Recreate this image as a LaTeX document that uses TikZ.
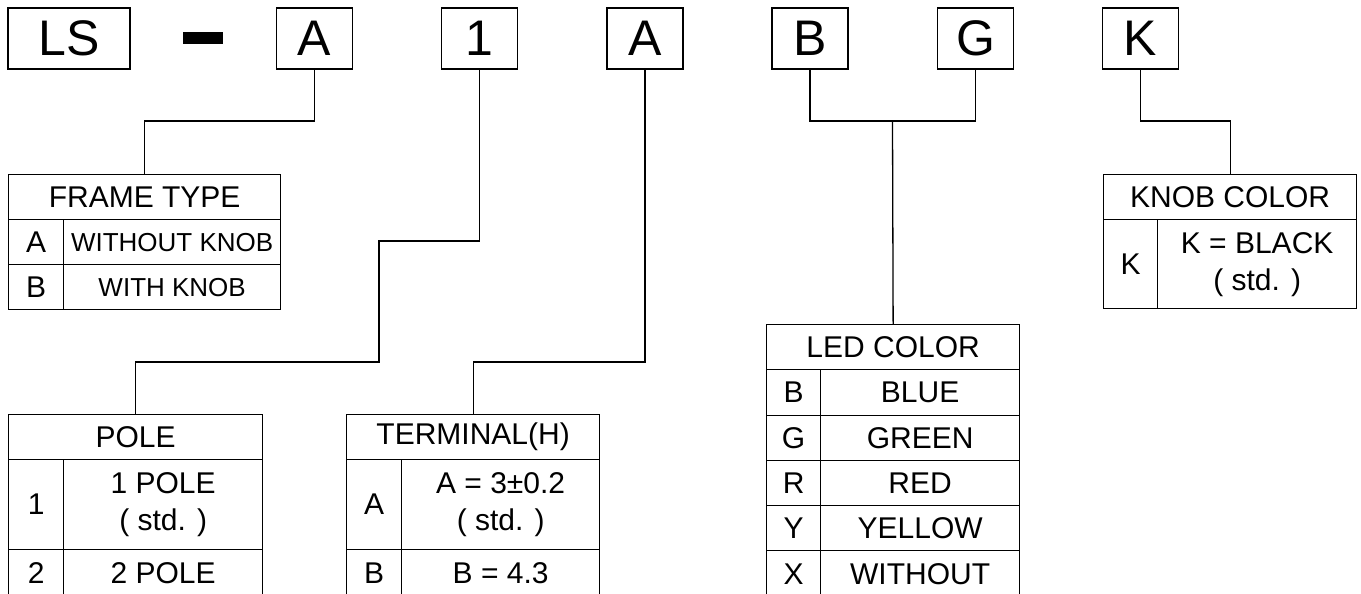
\documentclass[tikz,border=0pt]{standalone}
\usepackage{fontspec}
\setmainfont{Liberation Sans}
\usepackage{tikz}

\newcommand{\codefont}{\fontsize{50}{60}\selectfont}
\newcommand{\cellfont}{\fontsize{30}{37}\selectfont}
\newcommand{\smallcellfont}{\fontsize{26}{30}\selectfont}

\tikzset{
  codebox/.style={draw, line width=1.3pt, inner sep=0pt, minimum width=76pt, minimum height=61pt, font=\codefont},
  cell/.style={draw, line width=1.3pt, inner sep=0pt, anchor=north west, align=center, font=\cellfont},
  link/.style={line width=1.3pt}
}

\begin{document}
\begin{tikzpicture}[x=1pt, y=-1pt]
        \useasboundingbox (0,0) rectangle (1361,594);
        % code boxes
        \node [codebox, minimum width=122pt] (ls) at (69,38.5) {LS};
        \node [fill, inner sep=0pt, minimum width=40pt, minimum height=12pt] (dash) at (203,38) {};
        \node [codebox] (frame) at (314.5,38.5) {A};
        \node [codebox] (pole) at (479.5,38.5) {1};
        \node [codebox] (term) at (645,38.5) {A};
        \node [codebox] (ledB) at (810,38.5) {B};
        \node [codebox] (ledG) at (975.5,38.5) {G};
        \node [codebox] (knob) at (1140.5,38.5) {K};
        %
        % frame type
        \node [cell, minimum width=272pt, minimum height=45pt] (frameHead) at (8,174) {FRAME TYPE};
        \node [cell, minimum width=55pt, minimum height=45pt] (frameA) at (8,219) {A};
        \node [cell, minimum width=217pt, minimum height=45pt, font=\smallcellfont] (frameAval) at (63,219) {WITHOUT KNOB};
        \node [cell, minimum width=55pt, minimum height=45pt] (frameB) at (8,264) {B};
        \node [cell, minimum width=217pt, minimum height=45pt, font=\smallcellfont] (frameBval) at (63,264) {WITH KNOB};
        %
        % pole
        \node [cell, minimum width=254pt, minimum height=45pt] (poleHead) at (8,414) {POLE};
        \node [cell, minimum width=55pt, minimum height=90pt] (pole1) at (8,459) {1};
        \node [cell, minimum width=199pt, minimum height=90pt] (pole1val) at (63,459) {1 POLE\\( std. )};
        \node [cell, minimum width=55pt, minimum height=47pt] (pole2) at (8,549) {2};
        \node [cell, minimum width=199pt, minimum height=47pt] (pole2val) at (63,549) {2 POLE};
        %
        % terminal
        \node [cell, minimum width=253pt, minimum height=45pt] (termHead) at (346,414) {TERMINAL(H)};
        \node [cell, minimum width=55pt, minimum height=90pt] (termA) at (346,459) {A};
        \node [cell, minimum width=198pt, minimum height=90pt] (termAval) at (401,459) {A = 3±0.2\\( std. )};
        \node [cell, minimum width=55pt, minimum height=47pt] (termB) at (346,549) {B};
        \node [cell, minimum width=198pt, minimum height=47pt] (termBval) at (401,549) {B = 4.3};
        %
        % led color
        \node [cell, minimum width=253pt, minimum height=45pt] (ledHead) at (766,324) {LED COLOR};
        \node [cell, minimum width=54pt, minimum height=46pt] (ledRowB) at (766,369) {B};
        \node [cell, minimum width=199pt, minimum height=46pt] (ledRowBval) at (820,369) {BLUE};
        \node [cell, minimum width=54pt, minimum height=45pt] (ledRowG) at (766,415) {G};
        \node [cell, minimum width=199pt, minimum height=45pt] (ledRowGval) at (820,415) {GREEN};
        \node [cell, minimum width=54pt, minimum height=45pt] (ledRowR) at (766,460) {R};
        \node [cell, minimum width=199pt, minimum height=45pt] (ledRowRval) at (820,460) {RED};
        \node [cell, minimum width=54pt, minimum height=45pt] (ledRowY) at (766,505) {Y};
        \node [cell, minimum width=199pt, minimum height=45pt] (ledRowYval) at (820,505) {YELLOW};
        \node [cell, minimum width=54pt, minimum height=47pt] (ledRowX) at (766,550) {X};
        \node [cell, minimum width=199pt, minimum height=47pt] (ledRowXval) at (820,550) {WITHOUT};
        %
        % knob color
        \node [cell, minimum width=253pt, minimum height=45pt] (knobHead) at (1103,174) {KNOB COLOR};
        \node [cell, minimum width=54pt, minimum height=89pt] (knobK) at (1103,219) {K};
        \node [cell, minimum width=199pt, minimum height=89pt] (knobKval) at (1157,219) {K = BLACK\\( std. )};
        %
        % links
        \coordinate (frameBend) at (314.5,121);
        \coordinate (poleBendA) at (379,241);
        \coordinate (poleBendB) at (379,362);
        \coordinate (termBend) at (645,362);
        \coordinate (ledJoin) at (892.5,121);
        \coordinate (knobBend) at (1140.5,121);
        \draw [link] (frame.south) -- (frameBend) -| (frameHead.north);
        \draw [link] (pole.south) |- (poleBendA) -- (poleBendB) -| (poleHead.north);
        \draw [link] (term.south) -- (termBend) -| (termHead.north);
        \draw [link] (ledB.south) |- (ledJoin) -| (ledG.south);
        \draw [link] (ledJoin) -- (ledHead.north);
        \draw [link] (knob.south) -- (knobBend) -| (knobHead.north);
      \end{tikzpicture}
\end{document}
